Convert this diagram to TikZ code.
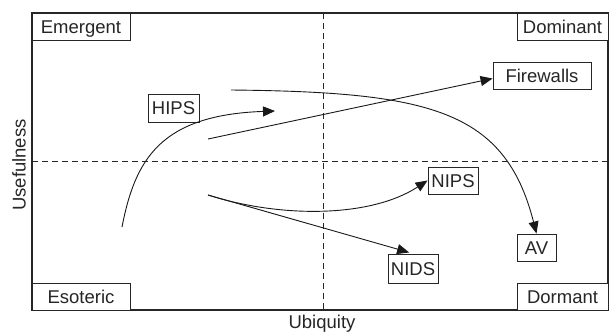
\documentclass[tikz,border=0pt]{standalone}
\usepackage{fontspec}
\setmainfont{Liberation Sans}
\usetikzlibrary{arrows.meta}
\begin{document}
\begin{tikzpicture}[x=1pt,y=-1pt,
  txt/.style={font=\fontsize{18.5}{22}\selectfont, text=black!85},
  tag/.style={txt, draw=black!85, line width=0.9pt, fill=white,
    minimum height=27pt, inner sep=1pt, text height=13.2pt, text depth=0pt},
  track/.style={line width=0.9pt, draw=black!90},
  trackarr/.style={track, -{Triangle[length=12pt,width=10pt]}},
  divider/.style={line width=0.8pt, draw=black!85, dash pattern=on 6pt off 4pt},
]
\useasboundingbox (0,0) rectangle (609,333);

% quadrant dividers
\draw[divider] (323,13) -- (323,310);
\draw[divider] (32,161) -- (608,161);

% outer frame
\draw[line width=1.1pt, draw=black!85] (32,13) rectangle (608,310);

% quadrant labels
\node[tag, minimum width=98pt] (emergent) at (81,26.5) {Emergent};
\node[tag, minimum width=91pt] (dominant) at (562.5,26.5) {Dominant};
\node[tag, minimum width=98pt] (esoteric) at (81,296.5) {Esoteric};
\node[tag, minimum width=91pt] (dormant) at (562.5,296.5) {Dormant};

% technologies
\node[tag, minimum width=51pt, minimum height=28pt] (hips) at (173.5,108) {HIPS};
\node[tag, minimum width=98pt] (fw) at (542,75.5) {Firewalls};
\node[tag, minimum width=50pt] (nips) at (453,180.5) {NIPS};
\node[tag, minimum width=50pt, minimum height=29pt] (nids) at (413,268.5) {NIDS};
\node[tag, minimum width=39pt] (av) at (536.5,247.5) {AV};

% axis titles
\node[txt, rotate=90] (yaxis) at (19,165) {Usefulness};
\node[txt] (xaxis) at (322,324) {Ubiquity};

% trajectory end points
\coordinate (hipsS) at (122,227);
\coordinate (hipsE) at (275,111);
\coordinate (fwS) at (208,139);
\coordinate (avS) at (231,90);
\coordinate (netS) at (208,195);

% trajectories
\draw[trackarr] (hipsS) .. controls (135,160) and (160,115) .. (hipsE);
\draw[trackarr] (fwS) -- ([yshift=-3pt]fw.west);
\draw[trackarr] (avS) .. controls (430,92) and (505,110) .. (av.north);
\draw[trackarr] (netS) .. controls (280,218) and (370,218) .. (nips.west);
\draw[trackarr, shorten >=4pt] (netS) -- (nids.north);
\end{tikzpicture}
\end{document}
